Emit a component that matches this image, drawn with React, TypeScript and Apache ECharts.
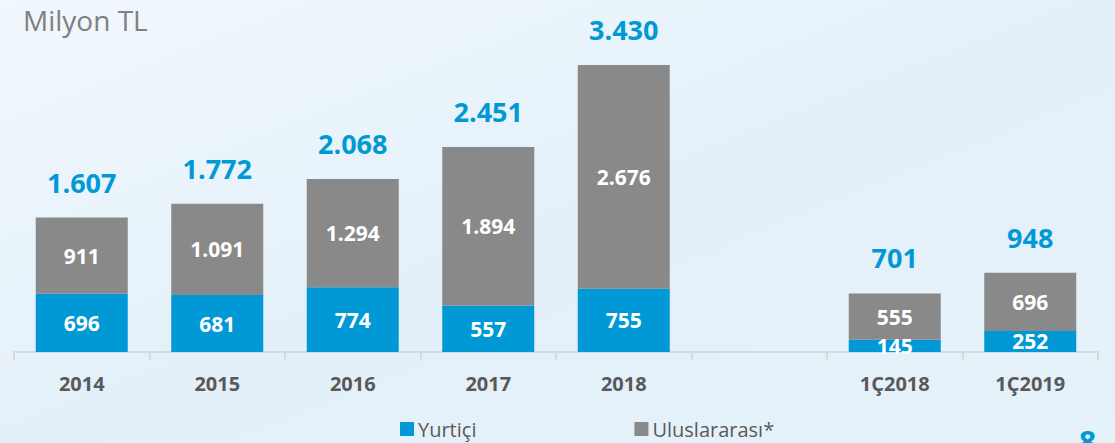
import React, { useEffect, useRef } from "react";
import * as echarts from "echarts";

const categories = ["2014", "2015", "2016", "2017", "2018", "", "1Ç2018", "1Ç2019"];
const yurtici: (number | string)[] = [696, 681, 774, 557, 755, "-", 145, 252];
const uluslararasi: (number | string)[] = [911, 1091, 1294, 1894, 2676, "-", 555, 696];
const totals: (number | string)[] = [1607, 1772, 2068, 2451, 3430, "-", 701, 948];

const fmt = (v: number) => v.toLocaleString("de-DE");

export default function App() {
  const ref = useRef<HTMLDivElement>(null);
  useEffect(() => {
    document.body.style.margin = "0";
    const chart = echarts.init(ref.current!, null, { renderer: "svg" });
    const font = "'Open Sans', sans-serif";
    chart.setOption({
      animation: false,
      backgroundColor: {
        type: "linear",
        x: 0, y: 0, x2: 1, y2: 1,
        colorStops: [
          { offset: 0, color: "#f1f8fd" },
          { offset: 0.5, color: "#e4f0f9" },
          { offset: 1, color: "#e6f2fa" },
        ],
      },
      graphic: [
        {
          type: "text",
          left: 23,
          top: 6,
          style: { text: "Milyon TL", font: `28px ${font}`, fill: "#808080" },
        },
        {
          type: "text",
          left: 1079,
          top: 426,
          style: { text: "8", font: `bold 30px ${font}`, fill: "#0099d6" },
        },
      ],
      legend: {
        left: 400,
        top: 419,
        padding: 0,
        itemWidth: 14,
        itemHeight: 14,
        itemGap: 158,
        icon: "rect",
        data: ["Yurtiçi", "Uluslararası*"],
        textStyle: { fontFamily: font, fontSize: 20, color: "#595959", padding: [0, 0, 0, -1] },
      },
      grid: { left: 14, right: 17, top: 17.3, bottom: 91 },
      xAxis: {
        type: "category",
        data: categories,
        axisLine: { lineStyle: { color: "#d9d9d9", width: 2 } },
        axisTick: { show: true, length: 8, lineStyle: { color: "#d9d9d9", width: 2 } },
        axisLabel: { fontFamily: font, fontSize: 20, fontWeight: "bold", color: "#595959", margin: 21 },
      },
      yAxis: { type: "value", min: 0, max: 4000, show: false, splitLine: { show: false } },
      series: [
        {
          name: "Yurtiçi",
          type: "bar",
          stack: "s",
          barWidth: 92,
          data: yurtici,
          itemStyle: { color: "#0099d6" },
          label: {
            show: true,
            position: "inside",
            fontFamily: font,
            fontSize: 21,
            fontWeight: "bold",
            color: "#ffffff",
            formatter: (p: any) => fmt(p.value),
          },
        },
        {
          name: "Uluslararası*",
          type: "bar",
          stack: "s",
          barWidth: 92,
          data: uluslararasi,
          itemStyle: { color: "#898989" },
          label: {
            show: true,
            position: "inside",
            fontFamily: font,
            fontSize: 21,
            fontWeight: "bold",
            color: "#ffffff",
            formatter: (p: any) => fmt(p.value),
          },
        },
        {
          name: "total",
          type: "bar",
          stack: "s",
          barWidth: 92,
          data: totals.map((t) => (t === "-" ? "-" : 0)),
          itemStyle: { color: "transparent" },
          label: {
            show: true,
            position: "top",
            distance: 22,
            fontFamily: font,
            fontSize: 27,
            fontWeight: "bold",
            color: "#0099d6",
            formatter: (p: any) => fmt(totals[p.dataIndex] as number),
          },
        },
      ],
    });
    return () => chart.dispose();
  }, []);
  return <div ref={ref} style={{ width: 1115, height: 443 }} />;
}
